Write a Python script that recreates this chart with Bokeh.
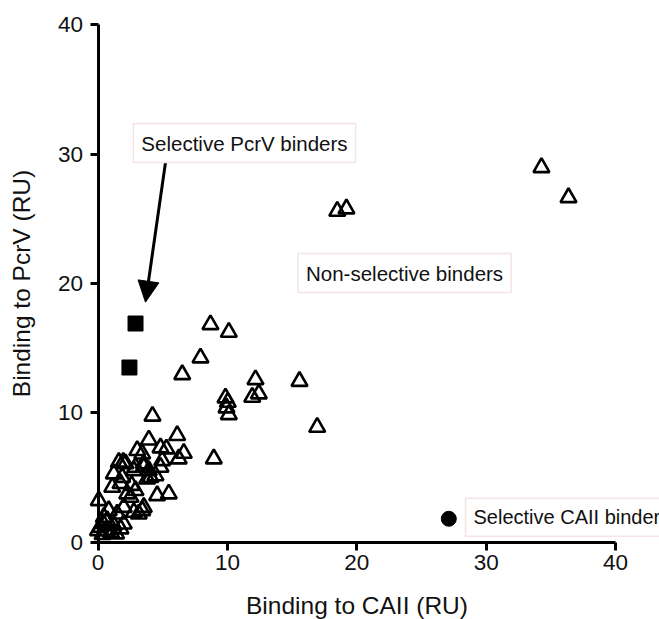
from bokeh.plotting import figure
from bokeh.models import Range1d, FixedTicker, Label, Arrow, NormalHead, ColumnDataSource
from bokeh.embed import file_html
from bokeh.resources import INLINE

# ---------------- data ----------------
# Non-selective binders (open triangles): binding to CAII (x) and to PcrV (y), RU
nonsel_caii = [8.69, 10.11, 7.92, 6.51, 12.17, 12.43, 11.92, 9.85, 10.03, 9.93,
               10.11, 15.57, 16.94, 4.21, 6.12, 8.95, 3.93, 4.83, 5.29, 6.63,
               6.24, 3.42, 1.61, 1.95, 2.90, 3.54, 3.93, 4.83, 4.44, 3.80,
               1.22, 1.87, 1.10, 4.57, 5.47, 2.26, 2.51, 0.06, 3.54, 2.77,
               3.15, 1.99, 1.48, 0.83, 0.45, 1.99, 1.22, 0.19, 0.71, 1.74,
               0.00, 2.13, 1.74, 2.90, 3.42, 0.71, 2.77, 3.54, 4.06, 4.96,
               3.03, 18.49, 19.20, 34.27, 36.36, 0.35, 1.00, 0.40, 1.40, 2.60]
nonsel_pcrv = [16.82, 16.23, 14.25, 12.96, 12.57, 11.47, 11.21, 11.16, 10.82, 10.39,
               9.87, 12.44, 8.89, 9.75, 8.25, 6.45, 7.91, 7.30, 7.22, 6.88,
               6.45, 6.83, 6.18, 6.18, 5.80, 5.80, 5.54, 5.80, 5.15, 4.90,
               5.29, 5.02, 4.25, 3.61, 3.74, 3.74, 3.48, 3.22, 2.70, 2.32,
               2.19, 2.70, 2.19, 2.45, 1.93, 1.42, 1.29, 1.16, 0.90, 1.04,
               0.90, 6.08, 4.54, 4.00, 2.45, 1.68, 5.54, 6.06, 5.02, 6.31,
               7.09, 25.58, 25.77, 28.96, 26.64, 0.60, 0.75, 1.45, 0.65, 4.40]

# Selective PcrV binders (filled squares)
pcrvsel_caii = [2.90, 2.43]
pcrvsel_pcrv = [16.90, 13.50]

# Selective CAII binder (filled circle)
caiisel_caii = [27.11]
caiisel_pcrv = [1.81]

x_ticks = [0, 10, 20, 30, 40]
y_ticks = [0, 10, 20, 30, 40]
x_label = "Binding to CAII (RU)"
y_label = "Binding to PcrV (RU)"

# annotation anchors (data units)
pcrv_note = dict(text="Selective PcrV binders", x=11.32, y=30.85)
nonsel_note = dict(text="Non-selective binders", x=23.69, y=20.80)
caii_note = dict(text="Selective CAII binder", x=28.4, y=1.93)
arrow_from = (5.22, 29.37)
arrow_to = (3.67, 18.55)

# ---------------- layout ----------------
W, H = 659, 619
K = 12.94             # px per data unit (both axes)
ORIGIN_X = 97.5       # canvas px of x=0
ORIGIN_Y = 541.7      # canvas px of y=0

x_start = -ORIGIN_X / K
x_end = (W - ORIGIN_X) / K
y_end = ORIGIN_Y / K
y_start = -(H - ORIGIN_Y) / K

FONT = "Liberation Sans"

p = figure(width=W, height=H, output_backend="svg", toolbar_location=None,
           x_range=Range1d(x_start, x_end), y_range=Range1d(y_start, y_end),
           min_border=0)
p.outline_line_color = None
p.grid.visible = False
p.background_fill_color = "white"
p.border_fill_color = "white"

for ax, ticks, lab in ((p.xaxis[0], x_ticks, x_label), (p.yaxis[0], y_ticks, y_label)):
    ax.fixed_location = 0
    ax.bounds = (ticks[0], ticks[-1])
    ax.ticker = FixedTicker(ticks=ticks)
    ax.minor_tick_line_color = None
    ax.axis_line_width = 3
    ax.axis_line_color = "black"
    ax.major_tick_line_width = 3
    ax.major_tick_line_color = "black"
    ax.major_tick_out = 8
    ax.major_tick_in = 0
    ax.major_label_text_font = FONT
    ax.major_label_text_font_size = "22.5px"
    ax.major_label_text_color = "#111111"
    ax.axis_label = lab
    ax.axis_label_text_font = FONT
    ax.axis_label_text_font_size = "24.5px"
    ax.axis_label_text_font_style = "normal"
    ax.axis_label_text_color = "#111111"

p.xaxis[0].major_label_standoff = 5
p.xaxis[0].axis_label_standoff = 18
p.yaxis[0].major_label_standoff = 7
p.yaxis[0].axis_label_standoff = 20

tri = ColumnDataSource(dict(x=nonsel_caii, y=nonsel_pcrv))
sq = ColumnDataSource(dict(x=pcrvsel_caii, y=pcrvsel_pcrv))
ci = ColumnDataSource(dict(x=caiisel_caii, y=caiisel_pcrv))

p.scatter("x", "y", source=tri, marker="triangle", size=16,
          line_color="black", line_width=2.6, fill_color=None)
p.scatter("x", "y", source=sq, marker="square", size=15,
          line_color="black", fill_color="black")
p.scatter("x", "y", source=ci, marker="circle", size=15,
          line_color="black", fill_color="black")

p.add_layout(Arrow(end=NormalHead(size=21, fill_color="black", line_color="black"),
                   x_start=arrow_from[0], y_start=arrow_from[1],
                   x_end=arrow_to[0], y_end=arrow_to[1],
                   line_width=3, line_color="black"))

for note, align, size in ((pcrv_note, "center", "20.5px"),
                          (nonsel_note, "center", "20.5px"),
                          (caii_note, "left", "20px")):
    p.add_layout(Label(x=note["x"], y=note["y"], text=note["text"],
                       text_align=align, text_baseline="middle",
                       text_font=FONT, text_font_size=size, text_color="#111111",
                       background_fill_color="white",
                       border_line_color="#f5e4e4", border_line_width=1.5,
                       padding=8))

open("out.html", "w").write(file_html(p, INLINE))
